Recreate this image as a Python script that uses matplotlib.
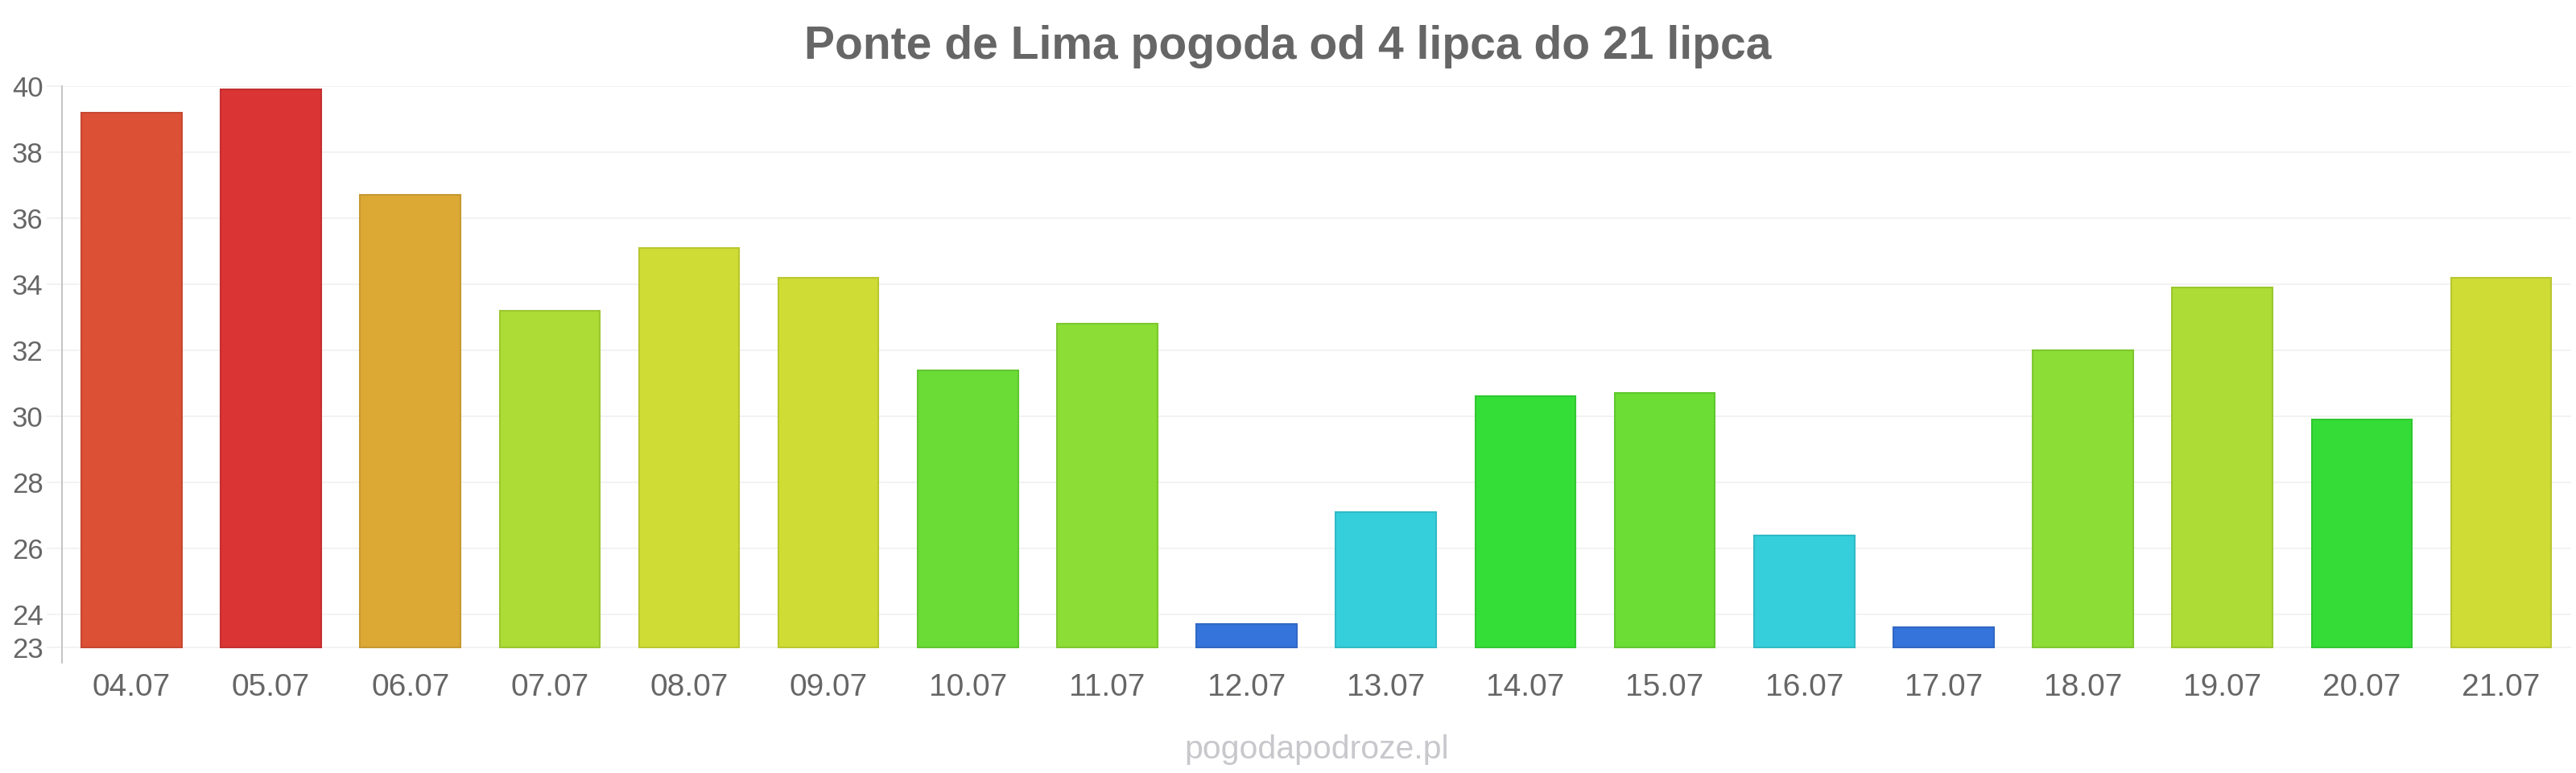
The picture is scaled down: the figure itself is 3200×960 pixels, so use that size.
import numpy as np
import matplotlib
matplotlib.use("Agg")
import matplotlib.pyplot as plt
from matplotlib.colors import to_rgb

plt.rcParams['font.family'] = ['Liberation Sans', 'DejaVu Sans']

days = ['04.07', '05.07', '06.07', '07.07', '08.07', '09.07', '10.07', '11.07', '12.07',
        '13.07', '14.07', '15.07', '16.07', '17.07', '18.07', '19.07', '20.07', '21.07']
temps = [39.2, 39.9, 36.7, 33.2, 35.1, 34.2, 31.4, 32.8, 23.7,
         27.1, 30.6, 30.7, 26.4, 23.6, 32.0, 33.9, 29.9, 34.2]
colors = ['#dc5035', '#da3435', '#dca935', '#acdc35', '#cedc35', '#cedc35', '#6bdc35', '#8cdd35', '#3574da',
          '#35cfdb', '#35de37', '#6bdd35', '#35cfdb', '#3574da', '#8cdd35', '#acdc35', '#35dc37', '#cedc35']
y_ticks = [23, 24, 26, 28, 30, 32, 34, 36, 38, 40]
base = 23
title = 'Ponte de Lima pogoda od 4 lipca do 21 lipca'
watermark = 'pogodapodroze.pl'

fig = plt.figure(figsize=(32, 9.6), dpi=100)
ax = fig.add_axes([0.024, 0.1427, 0.974, 0.7458])

# bar edge a bit darker than the fill
edges = [tuple(np.array(to_rgb(c)) * 0.9) for c in colors]
x = np.arange(len(days))
heights = [t - base for t in temps]
ax.bar(x, heights, bottom=base, width=0.72, color=colors, edgecolor=edges, linewidth=1.5, zorder=3)

ax.set_xlim(-0.5, len(days) - 0.5)
ax.set_ylim(base - 19 / 41, 40)
ax.set_yticks(y_ticks)
ax.set_xticks(x)
ax.set_xticklabels(days)

ax.yaxis.grid(True, color='#f2f2f2', linewidth=1.4, zorder=0)
ax.set_axisbelow(True)
ax.tick_params(axis='y', length=13.7, width=1.4, color='#f2f2f2', pad=3, labelsize=25, labelcolor='#666666')
ax.tick_params(axis='x', length=0, pad=9, labelsize=28, labelcolor='#666666')

for s in ['top', 'right', 'bottom']:
    ax.spines[s].set_visible(False)
ax.spines['left'].set_color('#c4c4c4')
ax.spines['left'].set_linewidth(1.4)

fig.text(0.5, 1 - 73 / 960, title, ha='center', va='baseline', fontsize=41,
         fontweight='bold', color='#666666')
fig.text(0.511, 1 - 942 / 960, watermark, ha='center', va='baseline', fontsize=29.5,
         color='#c8c8cc')

fig.savefig('out.png', dpi=100, facecolor='white')
